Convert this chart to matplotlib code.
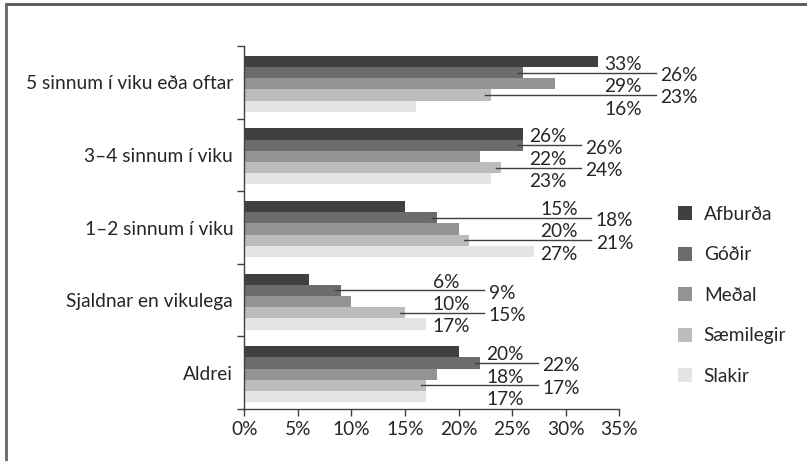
import numpy as np
import matplotlib.pyplot as plt
from matplotlib.patches import Patch
from matplotlib.lines import Line2D

plt.rcParams['font.family'] = ['Lato', 'DejaVu Sans']

# Data: share of students (%) per frequency group and achievement level
categories = ['5 sinnum í viku eða oftar', '3–4 sinnum í viku', '1–2 sinnum í viku',
              'Sjaldnar en vikulega', 'Aldrei']
series_names = ['Afburða', 'Góðir', 'Meðal', 'Sæmilegir', 'Slakir']
afburda = [33, 26, 15, 6, 20]
godir = [26, 26, 18, 9, 22]
medal = [29, 22, 20, 10, 18]
saemilegir = [23, 24, 21, 15, 17]
slakir = [16, 23, 27, 17, 17]
xticks = [0, 5, 10, 15, 20, 25, 30, 35]

colors = ['#404040', '#6c6c6f', '#939396', '#bcbcbf', '#e4e4e6']
values = np.array([afburda, godir, medal, saemilegir, slakir])

fig = plt.figure(figsize=(8.07, 4.61), dpi=100)
ax = fig.add_axes([0.3027, 0.1128, 0.4647, 0.7874])

bar_h = 0.154
y = np.arange(len(categories))
text_color = '#262626'
fs = 13.8

for j, (name, vals, col) in enumerate(zip(series_names, values, colors)):
    ax.barh(y + (j - 2) * bar_h + 0.02, vals, height=bar_h, color=col, label=name)

# value labels: odd series pushed right with a leader line
for i in range(len(categories)):
    gmax = values[:, i].max()
    x_even = gmax + 0.6
    x_odd = gmax + 5.8
    for j in range(len(series_names)):
        v = values[j, i]
        yy = y[i] + (j - 2) * bar_h + 0.02
        if j % 2 == 0:
            ax.text(x_even, yy + 0.04, f'{v}%', va='center', ha='left',
                    fontsize=fs, color=text_color, clip_on=False)
        else:
            ax.add_line(Line2D([v - 0.5, x_odd - 0.4], [yy, yy], color='#404040',
                               lw=1.0, clip_on=False))
            ax.text(x_odd, yy + 0.04, f'{v}%', va='center', ha='left',
                    fontsize=fs, color=text_color, clip_on=False)

ax.set_xlim(0, 35)
ax.set_ylim(len(categories) - 0.5, -0.5)
ax.set_xticks(xticks)
ax.set_xticklabels([f'{t}%' for t in xticks], fontsize=fs, color=text_color)
ax.set_yticks(y)
ax.set_yticklabels(categories, fontsize=fs, color=text_color)
ax.set_yticks(np.arange(-0.5, len(categories), 1.0), minor=True)
ax.tick_params(axis='y', which='major', length=0, pad=8)
ax.tick_params(axis='y', which='minor', length=5, width=1, color='#404040', direction='out')
ax.tick_params(axis='x', length=5, width=1, color='#404040', direction='out', pad=4)

for s in ['top', 'right']:
    ax.spines[s].set_visible(False)
for s in ['left', 'bottom']:
    ax.spines[s].set_color('#404040')
    ax.spines[s].set_linewidth(1.0)

handles = [Patch(facecolor=c, edgecolor='none') for c in colors]
fig.legend(handles, series_names, loc='upper left', bbox_to_anchor=(0.840, 0.553),
           frameon=False, fontsize=fs, handlelength=0.75, handleheight=0.75,
           handletextpad=0.6, labelspacing=1.22, labelcolor=text_color,
           borderaxespad=0, borderpad=0)

# outer frame (top and left edges)
fig.add_artist(Line2D([0.0075, 0.9995], [0.9913, 0.9913], color='#555555', lw=2,
                      transform=fig.transFigure))
fig.add_artist(Line2D([0.0080, 0.0080], [0.0, 0.9913], color='#666666', lw=2,
                      transform=fig.transFigure))

fig.savefig('out.png', dpi=100)
